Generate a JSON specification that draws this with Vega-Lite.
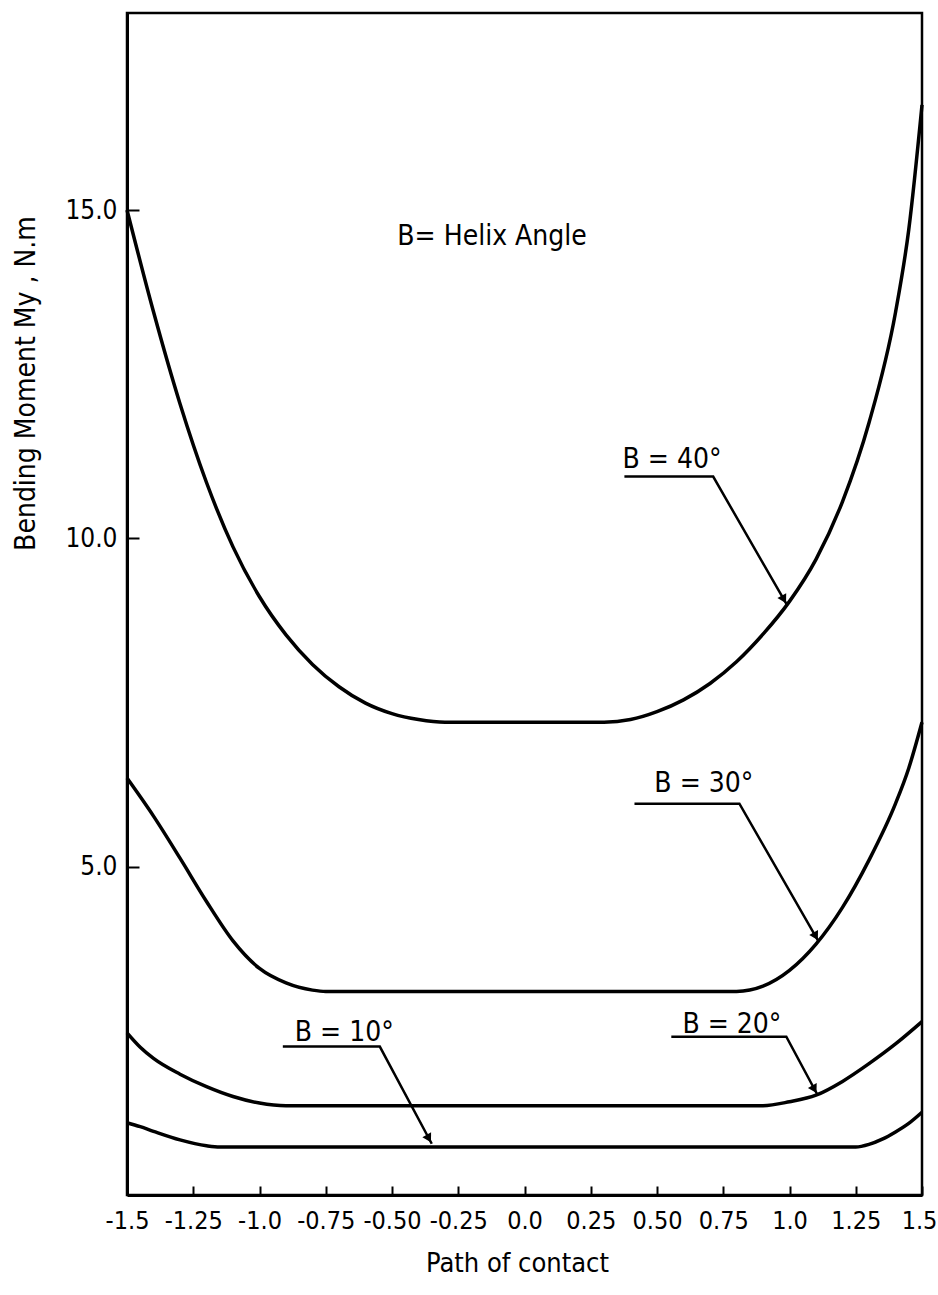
{
  "$schema": "https://vega.github.io/schema/vega-lite/v6.json",
  "width": 795,
  "height": 1182,
  "autosize": {"type": "none"},
  "padding": {"left": 127, "top": 13, "right": 16, "bottom": 100},
  "background": "white",
  "config": {
    "view": {"stroke": "black", "strokeWidth": 2.5},
    "font": "DejaVu Sans Condensed, Liberation Sans Narrow, DejaVu Sans, sans-serif"
  },
  "datasets": {
    "curves": [
      {"beta": "40", "x": -1.5, "y": 15.0},
      {"beta": "40", "x": -1.4, "y": 13.45},
      {"beta": "40", "x": -1.3, "y": 12.05},
      {"beta": "40", "x": -1.2, "y": 10.85},
      {"beta": "40", "x": -1.1, "y": 9.87},
      {"beta": "40", "x": -1.0, "y": 9.11},
      {"beta": "40", "x": -0.9, "y": 8.53},
      {"beta": "40", "x": -0.8, "y": 8.08},
      {"beta": "40", "x": -0.7, "y": 7.74},
      {"beta": "40", "x": -0.6, "y": 7.49},
      {"beta": "40", "x": -0.5, "y": 7.33},
      {"beta": "40", "x": -0.4, "y": 7.24},
      {"beta": "40", "x": -0.3, "y": 7.2},
      {"beta": "40", "x": 0.0, "y": 7.2},
      {"beta": "40", "x": 0.3, "y": 7.2},
      {"beta": "40", "x": 0.4, "y": 7.24},
      {"beta": "40", "x": 0.5, "y": 7.36},
      {"beta": "40", "x": 0.6, "y": 7.54},
      {"beta": "40", "x": 0.7, "y": 7.79},
      {"beta": "40", "x": 0.8, "y": 8.12},
      {"beta": "40", "x": 0.9, "y": 8.54},
      {"beta": "40", "x": 1.0, "y": 9.04},
      {"beta": "40", "x": 1.1, "y": 9.68},
      {"beta": "40", "x": 1.2, "y": 10.56},
      {"beta": "40", "x": 1.3, "y": 11.76},
      {"beta": "40", "x": 1.4, "y": 13.44},
      {"beta": "40", "x": 1.45, "y": 14.7},
      {"beta": "40", "x": 1.5, "y": 16.6},
      {"beta": "30", "x": -1.5, "y": 6.35},
      {"beta": "30", "x": -1.4, "y": 5.77},
      {"beta": "30", "x": -1.3, "y": 5.13},
      {"beta": "30", "x": -1.2, "y": 4.47},
      {"beta": "30", "x": -1.1, "y": 3.87},
      {"beta": "30", "x": -1.0, "y": 3.45},
      {"beta": "30", "x": -0.9, "y": 3.23},
      {"beta": "30", "x": -0.8, "y": 3.12},
      {"beta": "30", "x": -0.75, "y": 3.1},
      {"beta": "30", "x": 0.0, "y": 3.1},
      {"beta": "30", "x": 0.8, "y": 3.1},
      {"beta": "30", "x": 0.9, "y": 3.18},
      {"beta": "30", "x": 1.0, "y": 3.42},
      {"beta": "30", "x": 1.1, "y": 3.82},
      {"beta": "30", "x": 1.2, "y": 4.38},
      {"beta": "30", "x": 1.3, "y": 5.1},
      {"beta": "30", "x": 1.4, "y": 5.96},
      {"beta": "30", "x": 1.45, "y": 6.5},
      {"beta": "30", "x": 1.5, "y": 7.2},
      {"beta": "20", "x": -1.5, "y": 2.47},
      {"beta": "20", "x": -1.45, "y": 2.25},
      {"beta": "20", "x": -1.4, "y": 2.08},
      {"beta": "20", "x": -1.3, "y": 1.84},
      {"beta": "20", "x": -1.2, "y": 1.65},
      {"beta": "20", "x": -1.1, "y": 1.5},
      {"beta": "20", "x": -1.0, "y": 1.4},
      {"beta": "20", "x": -0.9, "y": 1.36},
      {"beta": "20", "x": 0.0, "y": 1.36},
      {"beta": "20", "x": 0.9, "y": 1.36},
      {"beta": "20", "x": 1.0, "y": 1.42},
      {"beta": "20", "x": 1.1, "y": 1.52},
      {"beta": "20", "x": 1.2, "y": 1.73},
      {"beta": "20", "x": 1.3, "y": 2.0},
      {"beta": "20", "x": 1.4, "y": 2.3},
      {"beta": "20", "x": 1.5, "y": 2.64},
      {"beta": "10", "x": -1.5, "y": 1.1},
      {"beta": "10", "x": -1.45, "y": 1.04},
      {"beta": "10", "x": -1.4, "y": 0.97},
      {"beta": "10", "x": -1.3, "y": 0.84},
      {"beta": "10", "x": -1.2, "y": 0.75},
      {"beta": "10", "x": -1.15, "y": 0.73},
      {"beta": "10", "x": 0.0, "y": 0.73},
      {"beta": "10", "x": 1.25, "y": 0.73},
      {"beta": "10", "x": 1.3, "y": 0.77},
      {"beta": "10", "x": 1.35, "y": 0.85},
      {"beta": "10", "x": 1.4, "y": 0.96},
      {"beta": "10", "x": 1.45, "y": 1.09},
      {"beta": "10", "x": 1.5, "y": 1.26}
    ],
    "leaders": [
      {"beta": "40", "seq": 1, "x": 0.377, "y": 10.94},
      {"beta": "40", "seq": 2, "x": 0.712, "y": 10.94},
      {"beta": "40", "seq": 3, "x": 0.99, "y": 8.99},
      {"beta": "30", "seq": 1, "x": 0.415, "y": 5.96},
      {"beta": "30", "seq": 2, "x": 0.811, "y": 5.96},
      {"beta": "30", "seq": 3, "x": 1.11, "y": 3.86},
      {"beta": "20", "seq": 1, "x": 0.554, "y": 2.41},
      {"beta": "20", "seq": 2, "x": 0.988, "y": 2.41},
      {"beta": "20", "seq": 3, "x": 1.105, "y": 1.53},
      {"beta": "10", "seq": 1, "x": -0.912, "y": 2.26},
      {"beta": "10", "seq": 2, "x": -0.546, "y": 2.26},
      {"beta": "10", "seq": 3, "x": -0.35, "y": 0.78}
    ],
    "heads": [
      {"beta": "40", "x": 0.979, "y": 9.07},
      {"beta": "30", "x": 1.099, "y": 3.94},
      {"beta": "20", "x": 1.094, "y": 1.61},
      {"beta": "10", "x": -0.361, "y": 0.86}
    ],
    "labels": [
      {"x": -0.48, "y": 14.47, "text": "B= Helix Angle"},
      {"x": 0.37, "y": 11.07, "text": "B = 40°"},
      {"x": 0.49, "y": 6.13, "text": "B = 30°"},
      {"x": 0.596, "y": 2.47, "text": "B = 20°"},
      {"x": -0.867, "y": 2.34, "text": "B = 10°"}
    ]
  },
  "layer": [
    {
      "data": {"name": "curves"},
      "mark": {"type": "line", "color": "black", "strokeWidth": 3.5, "interpolate": "monotone"},
      "encoding": {
        "x": {
          "field": "x", "type": "quantitative",
          "scale": {"domain": [-1.5, 1.5], "nice": false, "zero": false},
          "axis": {
            "title": "Path of contact",
            "values": [-1.5, -1.25, -1.0, -0.75, -0.5, -0.25, 0, 0.25, 0.5, 0.75, 1.0, 1.25, 1.5],
            "labelExpr": "(datum.value < 0 ? '-' : '') + ((abs(datum.value) * 2) % 1 != 0 || abs(datum.value) == 0.5 ? format(abs(datum.value), '.2f') : format(abs(datum.value), '.1f'))",
            "grid": false,
            "tickSize": -9, "tickWidth": 2, "tickColor": "black",
            "domainColor": "black", "domainWidth": 3,
            "labelPadding": 22, "labelFontSize": 25, "labelColor": "black",
            "labelOffset": {"condition": {"test": "datum.value == 1.5", "value": -3}, "value": 0},
            "labelFlush": false, "labelOverlap": false,
            "titleFontSize": 27, "titleFontWeight": "normal", "titleColor": "black",
            "titleX": 390, "titleY": 68, "titleAlign": "center", "titleBaseline": "middle"
          }
        },
        "y": {
          "field": "y", "type": "quantitative",
          "scale": {"domain": [0, 18], "nice": false},
          "axis": {
            "title": "Bending Moment  My , N.m",
            "values": [5, 10, 15],
            "format": ".1f",
            "grid": false,
            "tickSize": -12, "tickWidth": 2, "tickColor": "black",
            "domainColor": "black", "domainWidth": 3,
            "labelPadding": 22, "labelFontSize": 26, "labelColor": "black",
            "titleFontSize": 28, "titleFontWeight": "normal", "titleColor": "black",
            "titleX": -101, "titleY": 370, "titleAngle": -90, "titleAlign": "center", "titleBaseline": "middle"
          }
        },
        "detail": {"field": "beta"}
      }
    },
    {
      "data": {"name": "leaders"},
      "mark": {"type": "line", "color": "black", "strokeWidth": 2.5},
      "encoding": {
        "x": {"field": "x", "type": "quantitative"},
        "y": {"field": "y", "type": "quantitative"},
        "order": {"field": "seq"},
        "detail": {"field": "beta"}
      }
    },
    {
      "data": {"name": "heads"},
      "mark": {"type": "point", "shape": "triangle-down", "filled": true, "color": "black", "size": 100, "angle": 331, "opacity": 1},
      "encoding": {
        "x": {"field": "x", "type": "quantitative"},
        "y": {"field": "y", "type": "quantitative"}
      }
    },
    {
      "data": {"name": "labels"},
      "mark": {"type": "text", "align": "left", "baseline": "alphabetic", "fontSize": 28, "color": "black"},
      "encoding": {
        "x": {"field": "x", "type": "quantitative"},
        "y": {"field": "y", "type": "quantitative"},
        "text": {"field": "text"}
      }
    }
  ]
}
